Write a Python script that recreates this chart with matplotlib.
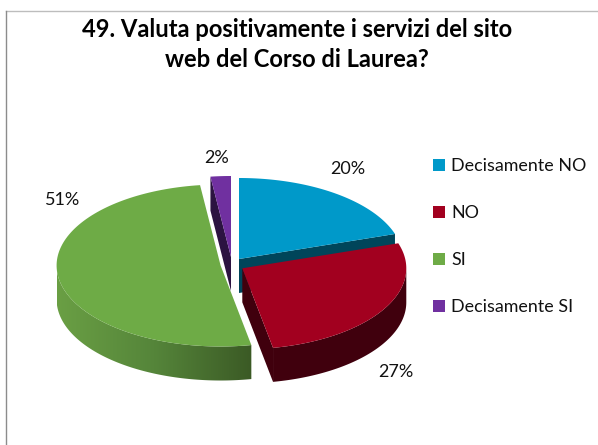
import numpy as np
import matplotlib
matplotlib.use("Agg")
import matplotlib.pyplot as plt
from matplotlib.colors import LinearSegmentedColormap
from matplotlib.patches import Patch, Polygon

plt.rcParams['font.family'] = ['Lato', 'DejaVu Sans']

title = "49. Valuta positivamente i servizi del sito\nweb del Corso di Laurea?"
categories = ["Decisamente NO", "NO", "SI", "Decisamente SI"]
percent = [20, 27, 51, 2]

top_colors = ["#0099C9", "#A2001F", "#6EAB46", "#7030A0"]
side_colors = ["#00455A", "#40000D", "#4F7D33", "#2C1341"]

# pie geometry in pixels of the 598x445 image
centers = [(239, 259), (242.3, 268.3), (220.6, 265.5), (231, 257)]
rx, ry = 164, 81
depth = 34
label_pos = [(348, 169), (396, 372), (63, 200), (217, 158)]


def rim(center, a0, a1):
    t = np.radians(np.linspace(a0, a1, 120))
    return np.column_stack([center[0] + rx * np.sin(t), center[1] - ry * np.cos(t)])


def drop(pts):
    return pts + np.array([0, depth])


fig = plt.figure(figsize=(5.98, 4.45), dpi=100)
ax = fig.add_axes([0, 0, 1, 1])
ax.set_xlim(0, 598)
ax.set_ylim(445, 0)
ax.axis("off")

# chart frame, only top and left are in the crop
ax.plot([6, 598], [11, 11], color="#BDBDBD", lw=1)
ax.plot([6, 6], [11, 445], color="#8C8C8C", lw=1)

edges = np.cumsum([0] + percent) * 3.6

# back slices first, the exploded ones go over them
for i in [0, 3, 1, 2]:
    c = centers[i]
    a0, a1 = edges[i], edges[i + 1]
    apex = np.array([c])

    # radial side faces, only those turned towards the viewer
    for a, visible in ((a0, np.sin(np.radians(a0)) < -1e-6), (a1, np.sin(np.radians(a1)) > 1e-6)):
        if visible:
            end = rim(c, a, a)[:1]
            face = np.vstack([apex, end, drop(end), drop(apex)])
            ax.add_patch(Polygon(face, closed=True, fc=side_colors[i], ec="none"))

    # outer wall, front half of the rim only
    w0, w1 = max(a0, 90), min(a1, 270)
    if w1 > w0:
        arc = rim(c, w0, w1)
        wall = np.vstack([arc, drop(arc)[::-1]])
        if i == 2:
            # green wall gets darker towards the front
            cmap = LinearSegmentedColormap.from_list("g", ["#6A9F44", "#55853A", "#3B5A25"])
            grad = np.linspace(0, 1, 256).reshape(1, -1)
            im = ax.imshow(grad, cmap=cmap, aspect="auto", interpolation="bilinear",
                           extent=(c[0] - rx, arc[0, 0], 445, 0))
            im.set_clip_path(Polygon(wall, closed=True, transform=ax.transData))
            ax.set_xlim(0, 598)
            ax.set_ylim(445, 0)
        else:
            ax.add_patch(Polygon(wall, closed=True, fc=side_colors[i], ec="none"))

    # top
    ax.add_patch(Polygon(np.vstack([apex, rim(c, a0, a1)]), closed=True, fc=top_colors[i], ec="none"))

for p, (x, y) in zip(percent, label_pos):
    ax.text(x, y, f"{p}%", ha="center", va="center", fontsize=13, color="#111111")

ax.text(297, 44.5, title, ha="center", va="center", fontsize=17.1, fontweight="bold",
        color="black", linespacing=1.42)

handles = [Patch(fc=col, ec="none", label=cat) for col, cat in zip(top_colors, categories)]
ax.legend(handles=handles, loc="upper left", bbox_to_anchor=(417 / 598, 1 - 142 / 445),
          frameon=False, fontsize=12.9, labelspacing=1.73, handlelength=0.67, handleheight=0.67,
          handletextpad=0.33, labelcolor="#111111")

fig.savefig("out.png", dpi=100)
